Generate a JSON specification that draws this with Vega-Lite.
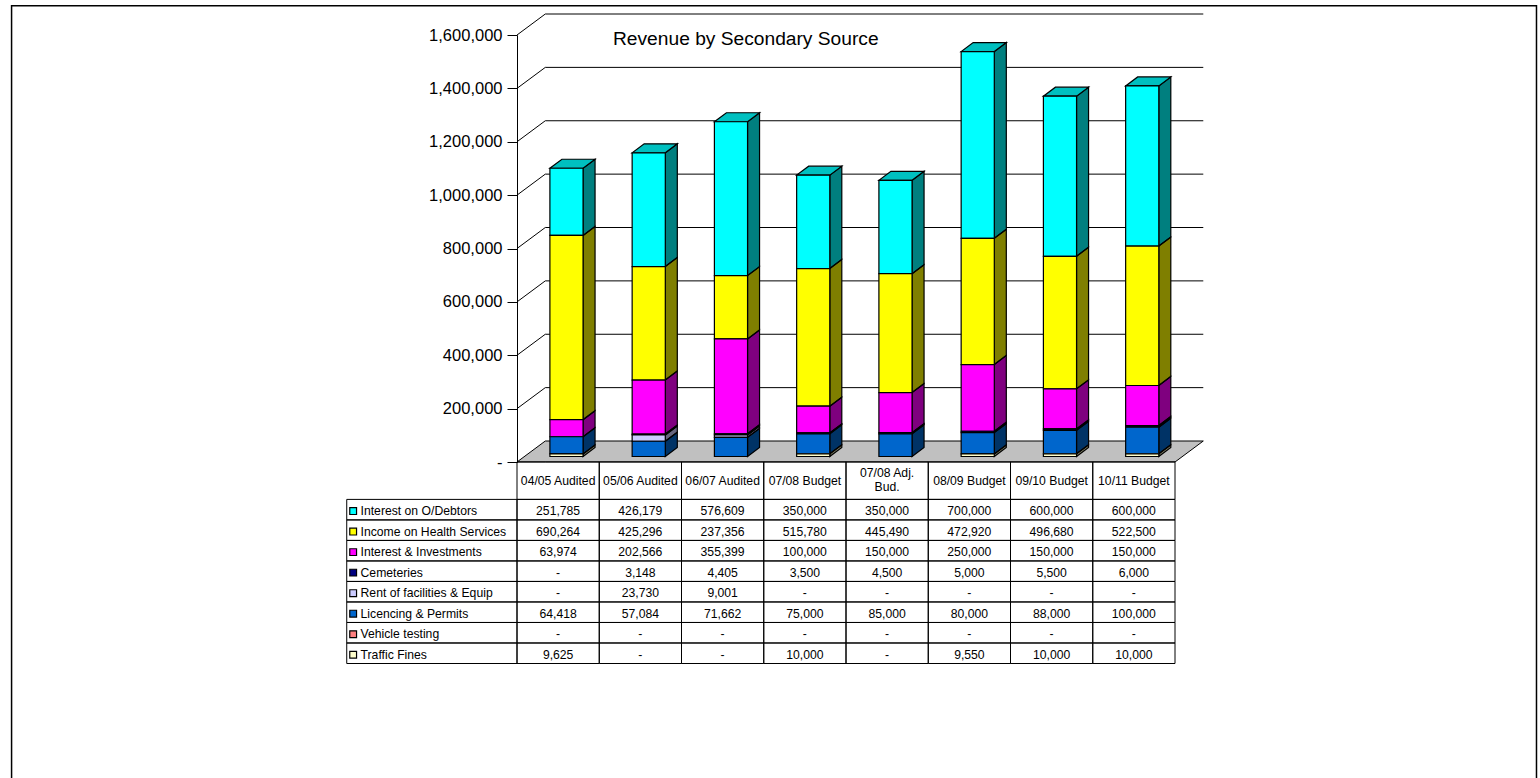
{
"$schema":"https://vega.github.io/schema/vega-lite/v6.json",
"width":658,"height":427,"autosize":"none",
"padding":{"left":517,"top":35,"right":365,"bottom":316},
"background":"white",
"title":{"text":"Revenue by Secondary Source","anchor":"start","frame":"group","dx":96,"dy":44,"offset":0,"fontSize":19.2,"fontWeight":"normal","font":"Liberation Sans","color":"black"},
"config":{"view":{"stroke":null},"font":"Liberation Sans","text":{"font":"Liberation Sans"}},
"datasets":{
"ticks":[{"tick":0},{"tick":200000},{"tick":400000},{"tick":600000},{"tick":800000},{"tick":1000000},{"tick":1200000},{"tick":1400000},{"tick":1600000}],
"revenue":[
{"period":"04/05 Audited","idx":0,"source":"Interest on O/Debtors","row":0,"value":251785},
{"period":"04/05 Audited","idx":0,"source":"Income on Health Services","row":1,"value":690264},
{"period":"04/05 Audited","idx":0,"source":"Interest & Investments","row":2,"value":63974},
{"period":"04/05 Audited","idx":0,"source":"Cemeteries","row":3,"value":0},
{"period":"04/05 Audited","idx":0,"source":"Rent of facilities & Equip","row":4,"value":0},
{"period":"04/05 Audited","idx":0,"source":"Licencing & Permits","row":5,"value":64418},
{"period":"04/05 Audited","idx":0,"source":"Vehicle testing","row":6,"value":0},
{"period":"04/05 Audited","idx":0,"source":"Traffic Fines","row":7,"value":9625},
{"period":"05/06 Audited","idx":1,"source":"Interest on O/Debtors","row":0,"value":426179},
{"period":"05/06 Audited","idx":1,"source":"Income on Health Services","row":1,"value":425296},
{"period":"05/06 Audited","idx":1,"source":"Interest & Investments","row":2,"value":202566},
{"period":"05/06 Audited","idx":1,"source":"Cemeteries","row":3,"value":3148},
{"period":"05/06 Audited","idx":1,"source":"Rent of facilities & Equip","row":4,"value":23730},
{"period":"05/06 Audited","idx":1,"source":"Licencing & Permits","row":5,"value":57084},
{"period":"05/06 Audited","idx":1,"source":"Vehicle testing","row":6,"value":0},
{"period":"05/06 Audited","idx":1,"source":"Traffic Fines","row":7,"value":0},
{"period":"06/07 Audited","idx":2,"source":"Interest on O/Debtors","row":0,"value":576609},
{"period":"06/07 Audited","idx":2,"source":"Income on Health Services","row":1,"value":237356},
{"period":"06/07 Audited","idx":2,"source":"Interest & Investments","row":2,"value":355399},
{"period":"06/07 Audited","idx":2,"source":"Cemeteries","row":3,"value":4405},
{"period":"06/07 Audited","idx":2,"source":"Rent of facilities & Equip","row":4,"value":9001},
{"period":"06/07 Audited","idx":2,"source":"Licencing & Permits","row":5,"value":71662},
{"period":"06/07 Audited","idx":2,"source":"Vehicle testing","row":6,"value":0},
{"period":"06/07 Audited","idx":2,"source":"Traffic Fines","row":7,"value":0},
{"period":"07/08 Budget","idx":3,"source":"Interest on O/Debtors","row":0,"value":350000},
{"period":"07/08 Budget","idx":3,"source":"Income on Health Services","row":1,"value":515780},
{"period":"07/08 Budget","idx":3,"source":"Interest & Investments","row":2,"value":100000},
{"period":"07/08 Budget","idx":3,"source":"Cemeteries","row":3,"value":3500},
{"period":"07/08 Budget","idx":3,"source":"Rent of facilities & Equip","row":4,"value":0},
{"period":"07/08 Budget","idx":3,"source":"Licencing & Permits","row":5,"value":75000},
{"period":"07/08 Budget","idx":3,"source":"Vehicle testing","row":6,"value":0},
{"period":"07/08 Budget","idx":3,"source":"Traffic Fines","row":7,"value":10000},
{"period":"07/08 Adj.\nBud.","idx":4,"source":"Interest on O/Debtors","row":0,"value":350000},
{"period":"07/08 Adj.\nBud.","idx":4,"source":"Income on Health Services","row":1,"value":445490},
{"period":"07/08 Adj.\nBud.","idx":4,"source":"Interest & Investments","row":2,"value":150000},
{"period":"07/08 Adj.\nBud.","idx":4,"source":"Cemeteries","row":3,"value":4500},
{"period":"07/08 Adj.\nBud.","idx":4,"source":"Rent of facilities & Equip","row":4,"value":0},
{"period":"07/08 Adj.\nBud.","idx":4,"source":"Licencing & Permits","row":5,"value":85000},
{"period":"07/08 Adj.\nBud.","idx":4,"source":"Vehicle testing","row":6,"value":0},
{"period":"07/08 Adj.\nBud.","idx":4,"source":"Traffic Fines","row":7,"value":0},
{"period":"08/09 Budget","idx":5,"source":"Interest on O/Debtors","row":0,"value":700000},
{"period":"08/09 Budget","idx":5,"source":"Income on Health Services","row":1,"value":472920},
{"period":"08/09 Budget","idx":5,"source":"Interest & Investments","row":2,"value":250000},
{"period":"08/09 Budget","idx":5,"source":"Cemeteries","row":3,"value":5000},
{"period":"08/09 Budget","idx":5,"source":"Rent of facilities & Equip","row":4,"value":0},
{"period":"08/09 Budget","idx":5,"source":"Licencing & Permits","row":5,"value":80000},
{"period":"08/09 Budget","idx":5,"source":"Vehicle testing","row":6,"value":0},
{"period":"08/09 Budget","idx":5,"source":"Traffic Fines","row":7,"value":9550},
{"period":"09/10 Budget","idx":6,"source":"Interest on O/Debtors","row":0,"value":600000},
{"period":"09/10 Budget","idx":6,"source":"Income on Health Services","row":1,"value":496680},
{"period":"09/10 Budget","idx":6,"source":"Interest & Investments","row":2,"value":150000},
{"period":"09/10 Budget","idx":6,"source":"Cemeteries","row":3,"value":5500},
{"period":"09/10 Budget","idx":6,"source":"Rent of facilities & Equip","row":4,"value":0},
{"period":"09/10 Budget","idx":6,"source":"Licencing & Permits","row":5,"value":88000},
{"period":"09/10 Budget","idx":6,"source":"Vehicle testing","row":6,"value":0},
{"period":"09/10 Budget","idx":6,"source":"Traffic Fines","row":7,"value":10000},
{"period":"10/11 Budget","idx":7,"source":"Interest on O/Debtors","row":0,"value":600000},
{"period":"10/11 Budget","idx":7,"source":"Income on Health Services","row":1,"value":522500},
{"period":"10/11 Budget","idx":7,"source":"Interest & Investments","row":2,"value":150000},
{"period":"10/11 Budget","idx":7,"source":"Cemeteries","row":3,"value":6000},
{"period":"10/11 Budget","idx":7,"source":"Rent of facilities & Equip","row":4,"value":0},
{"period":"10/11 Budget","idx":7,"source":"Licencing & Permits","row":5,"value":100000},
{"period":"10/11 Budget","idx":7,"source":"Vehicle testing","row":6,"value":0},
{"period":"10/11 Budget","idx":7,"source":"Traffic Fines","row":7,"value":10000}
]},
"resolve":{"scale":{"y":"independent"}},
"layer":[
 {"data":{"name":"ticks"},
  "transform":[{"filter":"datum.tick>0"},{"calculate":"[0,1,2]","as":"vertex"},{"flatten":["vertex"]},
   {"calculate":"datum.vertex==0?0:datum.vertex==1?0.344:8.344","as":"px"},
   {"calculate":"datum.tick+(datum.vertex>0?78650:0)","as":"py"}],
  "mark":{"type":"line","stroke":"black","strokeWidth":1,"interpolate":"linear"},
  "encoding":{
   "x":{"field":"px","type":"quantitative","scale":{"domain":[0,8],"nice":false,"zero":false},"axis":null},
   "y":{"field":"py","type":"quantitative","scale":{"domain":[0,1600000],"nice":false,"zero":false},"title":null,
    "axis":{"values":[0,200000,400000,600000,800000,1000000,1200000,1400000,1600000],"labelExpr":"datum.value==0?'-':format(datum.value,',')","encode":{"labels":{"update":{"dx":{"signal":"datum.value==0?-20:0"}}}},"grid":false,"domainColor":"black","tickColor":"black","tickSize":10,"labelPadding":5,"labelFontSize":16.5,"labelColor":"black","labelFont":"Liberation Sans","domainWidth":1,"tickWidth":1,"labelOverlap":false,"labelBound":false,"labelFlush":false}},
   "detail":{"field":"tick"}}},
 {"data":{"name":"ticks"},
  "transform":[{"filter":"datum.tick==0"},{"calculate":"[0,1,2,3]","as":"vertex"},{"flatten":["vertex"]},
   {"calculate":"[0,0.344,8,8.344][datum.vertex]","as":"px"},
   {"calculate":"datum.vertex==3?78650:0","as":"low"},
   {"calculate":"datum.vertex==0?0:78650","as":"high"}],
  "mark":{"type":"area","fill":"#C0C0C0","stroke":"black","strokeWidth":1},
  "encoding":{
   "x":{"field":"px","type":"quantitative","scale":{"domain":[0,8],"nice":false,"zero":false},"axis":null},
   "y":{"field":"low","type":"quantitative","scale":{"domain":[0,1600000],"nice":false,"zero":false},"axis":null},
   "y2":{"field":"high"}}},
 {"data":{"name":"revenue"},
  "transform":[{"filter":"datum.value>0"},
   {"stack":"value","groupby":["period"],"sort":[{"field":"row","order":"descending"}],"as":["v0","v1"]},
   {"calculate":"datum.v0+20600","as":"low"},{"calculate":"datum.v1+20600","as":"high"},
   {"calculate":"datum.idx+0.4","as":"left"},{"calculate":"datum.idx+0.803","as":"right"}],
  "layer":[
   {"transform":[{"calculate":"[0,1]","as":"depth"},{"flatten":["depth"]},
     {"calculate":"datum.right+datum.depth*0.146","as":"px"},
     {"calculate":"datum.low+datum.depth*33700","as":"pl"},{"calculate":"datum.high+datum.depth*33700","as":"ph"}],
    "mark":{"type":"area"},
    "encoding":{
     "x":{"field":"px","type":"quantitative","scale":{"domain":[0,8],"nice":false,"zero":false},"axis":null},
     "y":{"field":"pl","type":"quantitative","scale":{"domain":[0,1600000],"nice":false,"zero":false},"axis":null},
     "y2":{"field":"ph"},
     "detail":[{"field":"period"},{"field":"source"}],
     "color":{"field":"source","type":"nominal","legend":null,"scale":{"domain":["Interest on O/Debtors","Income on Health Services","Interest & Investments","Cemeteries","Rent of facilities & Equip","Licencing & Permits","Vehicle testing","Traffic Fines"],"range":["#00FFFF","#FFFF00","#FF00FF","#000080","#CCCCFF","#0066CC","#FF8080","#FFFFCC"]}}}},
   {"transform":[{"calculate":"[0,1]","as":"depth"},{"flatten":["depth"]},
     {"calculate":"datum.right+datum.depth*0.146","as":"px"},
     {"calculate":"datum.low+datum.depth*33700","as":"pl"},{"calculate":"datum.high+datum.depth*33700","as":"ph"}],
    "mark":{"type":"area","fill":"black","fillOpacity":0.5,"stroke":"black","strokeWidth":1.2},
    "encoding":{
     "x":{"field":"px","type":"quantitative","scale":{"domain":[0,8],"nice":false,"zero":false},"axis":null},
     "y":{"field":"pl","type":"quantitative","scale":{"domain":[0,1600000],"nice":false,"zero":false},"axis":null},
     "y2":{"field":"ph"},
     "detail":[{"field":"period"},{"field":"source"}]}},
   {"transform":[{"filter":"datum.row==0"},{"calculate":"[0,1,2,3]","as":"vertex"},{"flatten":["vertex"]},
     {"calculate":"[datum.left,datum.left+0.146,datum.right,datum.right+0.146][datum.vertex]","as":"px"},
     {"calculate":"datum.high+(datum.vertex==3?33700:0)","as":"pl"},
     {"calculate":"datum.high+(datum.vertex==0?0:33700)","as":"ph"}],
    "mark":{"type":"area","fill":"#00C0C0","stroke":"black","strokeWidth":1.2},
    "encoding":{
     "x":{"field":"px","type":"quantitative","scale":{"domain":[0,8],"nice":false,"zero":false},"axis":null},
     "y":{"field":"pl","type":"quantitative","scale":{"domain":[0,1600000],"nice":false,"zero":false},"axis":null},
     "y2":{"field":"ph"},
     "detail":{"field":"period"}}},
   {"mark":{"type":"rect","stroke":"black","strokeWidth":1.2},
    "encoding":{
     "x":{"field":"left","type":"quantitative","scale":{"domain":[0,8],"nice":false,"zero":false},"axis":null},
     "x2":{"field":"right"},
     "y":{"field":"low","type":"quantitative","scale":{"domain":[0,1600000],"nice":false,"zero":false},"axis":null},
     "y2":{"field":"high"},
     "color":{"field":"source","type":"nominal","legend":null,"scale":{"domain":["Interest on O/Debtors","Income on Health Services","Interest & Investments","Cemeteries","Rent of facilities & Equip","Licencing & Permits","Vehicle testing","Traffic Fines"],"range":["#00FFFF","#FFFF00","#FF00FF","#000080","#CCCCFF","#0066CC","#FF8080","#FFFFCC"]}}}}
  ]},
{"data":{"name":"revenue"},
 "transform":[{"calculate":"datum.idx+1","as":"next"},{"calculate":"datum.row+1","as":"rowEnd"},{"calculate":"datum.row+0.57","as":"rowMid"},{"calculate":"datum.idx+0.5","as":"mid"},
  {"calculate":"datum.value==0?'-':format(datum.value,',')","as":"label"}],
 "layer":[
  {"mark":{"type":"rect","filled":false,"stroke":"black","strokeWidth":1},
   "encoding":{
    "x":{"field":"idx","type":"quantitative","scale":{"domain":[0,8],"nice":false,"zero":false},"axis":null},
    "x2":{"field":"next"},
    "y":{"field":"row","type":"quantitative","scale":{"domain":[0,8],"range":[464.4,628.5],"nice":false,"zero":false},"axis":null},
    "y2":{"field":"rowEnd"}}},
  {"mark":{"type":"text","fontSize":12.2,"align":"center","baseline":"middle","color":"black","font":"Liberation Sans"},
   "encoding":{
    "x":{"field":"mid","type":"quantitative","scale":{"domain":[0,8],"nice":false,"zero":false},"axis":null},
    "y":{"field":"rowMid","type":"quantitative","axis":null},
    "text":{"field":"label"}}},
  {"transform":[{"filter":"datum.idx==0"}],
   "mark":{"type":"rect","filled":false,"stroke":"black","strokeWidth":1},
   "encoding":{
    "x":{"datum":-2.07,"type":"quantitative","scale":{"domain":[0,8],"nice":false,"zero":false},"axis":null},
    "x2":{"datum":0},
    "y":{"field":"row","type":"quantitative","axis":null},
    "y2":{"field":"rowEnd"}}},
  {"transform":[{"filter":"datum.idx==0"}],
   "mark":{"type":"text","fontSize":12.2,"align":"left","baseline":"middle","color":"black","font":"Liberation Sans"},
   "encoding":{
    "x":{"datum":-1.902,"type":"quantitative","axis":null},
    "y":{"field":"rowMid","type":"quantitative","axis":null},
    "text":{"field":"source"}}},
  {"transform":[{"filter":"datum.idx==0"}],
   "mark":{"type":"point","shape":"square","filled":true,"size":46,"stroke":"black","strokeWidth":1.2,"opacity":1},
   "encoding":{
    "x":{"datum":-1.992,"type":"quantitative","axis":null},
    "y":{"field":"rowMid","type":"quantitative","axis":null},
    "fill":{"field":"source","type":"nominal","legend":null,"scale":{"domain":["Interest on O/Debtors","Income on Health Services","Interest & Investments","Cemeteries","Rent of facilities & Equip","Licencing & Permits","Vehicle testing","Traffic Fines"],"range":["#00FFFF","#FFFF00","#FF00FF","#000080","#CCCCFF","#0066CC","#FF8080","#FFFFCC"]}}}},
  {"transform":[{"filter":"datum.row==0"}],
   "mark":{"type":"rect","filled":false,"stroke":"black","strokeWidth":1},
   "encoding":{
    "x":{"field":"idx","type":"quantitative","axis":null},
    "x2":{"field":"next"},
    "y":{"datum":-1.83,"type":"quantitative","axis":null},
    "y2":{"datum":0}}},
  {"transform":[{"filter":"datum.row==0 && datum.idx!=4"}],
   "mark":{"type":"text","fontSize":12.2,"align":"center","baseline":"middle","color":"black","font":"Liberation Sans"},
   "encoding":{
    "x":{"field":"mid","type":"quantitative","axis":null},
    "y":{"datum":-0.9,"type":"quantitative","axis":null},
    "text":{"field":"period"}}},
  {"transform":[{"filter":"datum.row==0 && datum.idx==4"}],
   "mark":{"type":"text","fontSize":12.2,"align":"center","baseline":"middle","color":"black","font":"Liberation Sans","lineBreak":"\n","lineHeight":14},
   "encoding":{
    "x":{"field":"mid","type":"quantitative","axis":null},
    "y":{"datum":-1.27,"type":"quantitative","axis":null},
    "text":{"field":"period"}}},
  {"transform":[{"filter":"datum.row==0 && datum.idx==0"}],
   "mark":{"type":"rect","filled":false,"stroke":"black","strokeWidth":1.5},
   "encoding":{
    "x":{"datum":-6.145,"type":"quantitative","axis":null},
    "x2":{"datum":12.395},
    "y":{"datum":-24.06,"type":"quantitative","axis":null},
    "y2":{"datum":30}}}
 ]}
]
}
